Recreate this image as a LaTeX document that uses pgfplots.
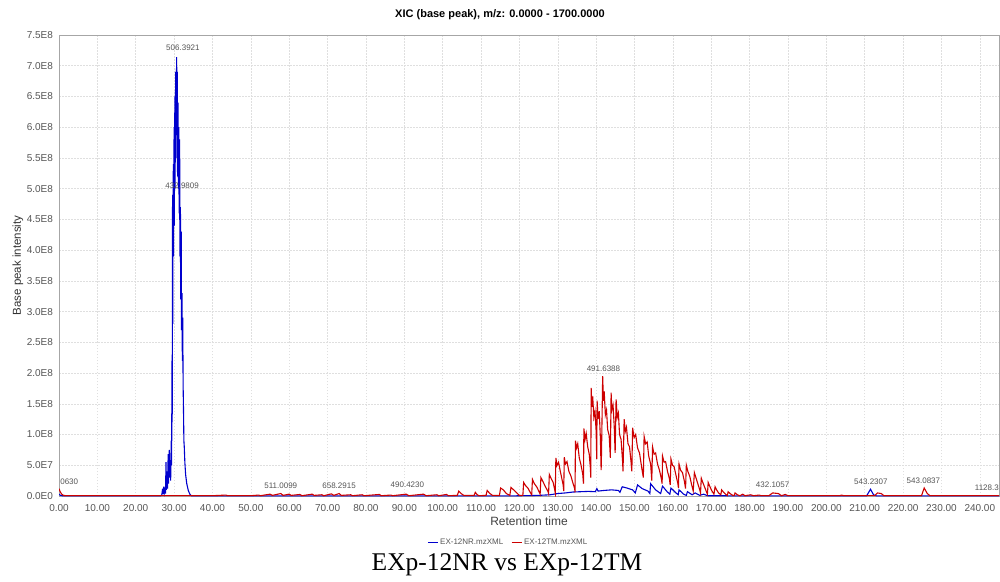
\documentclass[border=0pt]{standalone}
\usepackage{pgfplots}
\pgfplotsset{compat=1.18}
\usepackage{fontspec}
\setmainfont{Liberation Sans}
\newfontfamily\capfont{Liberation Serif}
\definecolor{nrblue}{RGB}{0,0,205}
\definecolor{tmred}{RGB}{205,0,0}
\definecolor{labgray}{RGB}{85,85,85}

\begin{document}
\begin{tikzpicture}
\useasboundingbox (0,0) rectangle (1000pt,581pt);
\begin{axis}[
  scale only axis,
  width=940pt, height=461pt,
  at={(59pt,85pt)}, anchor=south west,
  xmin=0, xmax=245, ymin=0, ymax=7.5,
  xtick={0,10,...,240},
  xticklabels={0.00,10.00,20.00,30.00,40.00,50.00,60.00,70.00,80.00,90.00,100.00,110.00,120.00,130.00,140.00,150.00,160.00,170.00,180.00,190.00,200.00,210.00,220.00,230.00,240.00},
  ytick={0,0.5,...,7.5},
  yticklabels={0.0E0,5.0E7,1.0E8,1.5E8,2.0E8,2.5E8,3.0E8,3.5E8,4.0E8,4.5E8,5.0E8,5.5E8,6.0E8,6.5E8,7.0E8,7.5E8},
  /pgf/number format/assume math mode=true,
  major tick length=0pt,
  ticklabel style={font=\fontsize{10}{12}\selectfont, text=labgray},
  xticklabel style={yshift=-5pt},
  yticklabel style={xshift=-2.5pt},
  xmajorgrids, ymajorgrids,
  major grid style={gray!25, dash pattern=on 1.5pt off 1.5pt, line width=0.5pt},
  axis line style={gray!70, line width=0.8pt},
  xlabel={Retention time},
  ylabel={Base peak intensity},
  every axis x label/.style={at={(rel axis cs:0.5,-0.054)}, anchor=center, font=\fontsize{12}{14}\selectfont, text=black!75},
  every axis y label/.style={at={(rel axis cs:-0.0437,0.5)}, anchor=center, rotate=90, font=\fontsize{11.5}{14}\selectfont, text=black!80},
  legend columns=2,
  legend style={draw=none, fill=none, at={(0.478,-0.1)}, anchor=center,
    font=\fontsize{8}{10}\selectfont, text=labgray,
    /tikz/every even column/.append style={column sep=6pt}},
  legend image code/.code={\draw[#1, line width=0.8pt] (0pt,0pt) -- (10pt,0pt);},
]
% EX-12NR
\addplot[nrblue, line width=1.1pt] coordinates {
(0,0.03)(0.4,0.01)(1,0.003)(26.5,0.003)(26.8,0.02)(27.0,0.12)(27.1,0.03)(27.3,0.15)(27.45,0.05)(27.6,0.10)(27.75,0.04)
(27.9,0.55)(28.0,0.10)(28.2,0.40)(28.3,0.12)(28.45,0.68)(28.55,0.20)(28.75,0.75)(28.85,0.30)(29.0,0.55)(29.1,0.25)
(29.25,0.90)(29.35,0.50)(29.45,2.2)(29.5,1.2)(29.6,4.9)(29.65,2.8)(29.7,4.2)(29.8,5.4)(29.85,3.9)(29.9,4.6)(30.0,6.0)
(30.05,4.4)(30.1,5.1)(30.2,6.5)(30.25,5.0)(30.3,5.6)(30.4,6.9)(30.45,5.5)(30.5,6.1)(30.6,6.75)(30.67,7.14)(30.72,5.9)
(30.75,6.3)(30.85,6.9)(30.9,5.2)(30.95,5.7)(31.05,6.4)(31.1,5.0)(31.15,5.5)(31.25,6.0)(31.3,4.6)(31.35,5.0)(31.45,5.8)
(31.5,3.9)(31.55,4.2)(31.65,4.7)(31.7,3.2)(31.75,3.6)(31.85,4.3)(31.9,2.7)(31.95,3.0)(32.05,3.3)(32.15,2.2)(32.25,2.9)
(32.35,1.8)(32.45,1.4)(32.55,0.9)(32.65,0.8)(32.8,0.55)(33.0,0.35)(33.3,0.2)(33.7,0.09)(34.1,0.03)(34.5,0.003)
(119,0.003)(125,0.01)(128,0.02)(130,0.04)(132,0.05)(134,0.065)(136,0.07)(138,0.075)(139.8,0.07)(140.2,0.12)(140.5,0.08)
(142,0.09)(144,0.10)(145.8,0.09)(146.2,0.06)(146.8,0.15)(148,0.13)(149.5,0.10)(150.2,0.05)(150.8,0.18)(152,0.12)
(153.5,0.08)(154.0,0.04)(154.2,0.20)(155.5,0.10)(156.8,0.04)(157.3,0.16)(158.5,0.07)(159.2,0.03)(159.5,0.13)(160.8,0.05)
(161.4,0.02)(161.6,0.10)(162.8,0.03)(163.5,0.01)(163.8,0.07)(165,0.02)(165.8,0.05)(167,0.01)(168,0.03)(169,0.005)
(175,0.003)(210.5,0.003)(211.5,0.11)(212.3,0.02)(213,0.003)(245,0.003)
};
\addlegendentry{EX-12NR.mzXML}
% EX-12TM
\addplot[tmred, line width=1.1pt] coordinates {
(0,0.12)(0.3,0.07)(0.7,0.03)(1.2,0.01)(2,0.005)(40,0.005)(43.5,0.015)(44,0.005)(50,0.005)(52,0.015)(52.5,0.005)
(55,0.03)(55.6,0.01)(57.8,0.04)(58.4,0.01)(60,0.03)(60.5,0.01)(62.8,0.025)(63.3,0.005)(66,0.03)(66.5,0.01)(68.5,0.02)
(69,0.005)(71,0.035)(71.6,0.01)(73,0.04)(73.6,0.01)(76,0.02)(76.5,0.005)(79,0.02)(79.5,0.005)(83.5,0.025)(84,0.005)
(86.5,0.015)(87,0.005)(90.5,0.03)(91.2,0.005)(95,0.03)(95.7,0.005)(98.5,0.02)(99,0.005)(101,0.025)(101.5,0.005)
(103.8,0.01)(104.2,0.08)(104.8,0.04)(105.5,0.01)(108.2,0.01)(108.5,0.06)(109,0.02)(109.5,0.005)(111.3,0.01)(111.6,0.09)
(112.3,0.04)(113,0.01)(114.8,0.01)(115.1,0.13)(115.8,0.1)(116.6,0.04)(117.5,0.01)(117.8,0.14)(118.5,0.1)(119.3,0.05)
(120,0.01)(120.9,0.01)(121.1,0.22)(121.6,0.17)(122.2,0.13)(122.9,0.05)(123.2,0.02)(123.4,0.27)(123.9,0.2)(124.5,0.15)
(125.2,0.06)(125.4,0.03)(125.6,0.30)(126.1,0.24)(126.7,0.16)(127.4,0.08)(127.6,0.04)(127.8,0.35)(128.3,0.28)(128.8,0.22)
(129.2,0.10)(129.35,0.05)(129.5,0.62)(129.8,0.50)(130.2,0.55)(130.6,0.42)(131.0,0.30)(131.4,0.18)(131.55,0.08)
(131.7,0.63)(132.0,0.52)(132.4,0.56)(132.9,0.40)(133.4,0.33)(133.9,0.22)(134.4,0.12)(134.5,0.06)(134.6,0.90)(134.9,0.78)
(135.2,0.85)(135.6,0.62)(136.0,0.52)(136.5,0.36)(136.7,0.20)(136.8,1.10)(137.1,0.92)(137.4,1.02)(137.8,0.80)(138.2,0.68)
(138.5,0.45)(138.6,0.30)(138.7,1.76)(138.9,1.45)(139.1,1.62)(139.4,1.28)(139.7,1.38)(140.0,1.05)(140.15,0.60)(140.25,1.55)
(140.5,1.25)(140.8,1.38)(141.1,0.95)(141.3,0.42)(141.4,0.70)(141.7,1.95)(141.9,1.55)(142.1,1.70)(142.4,1.32)(142.7,1.40)
(143.0,1.08)(143.4,0.98)(143.7,0.62)(143.9,1.68)(144.1,1.40)(144.4,1.48)(144.7,1.15)(144.95,0.70)(145.2,1.57)(145.5,1.28)
(145.8,1.35)(146.1,1.00)(146.5,0.92)(146.9,0.55)(147.0,0.40)(147.3,1.25)(147.6,1.05)(147.9,1.12)(148.3,0.85)(148.7,0.80)
(149.1,0.55)(149.3,0.40)(149.5,1.11)(149.9,0.95)(150.3,1.00)(150.8,0.78)(151.3,0.70)(151.9,0.45)(152.3,0.30)(152.5,0.97)
(152.9,0.85)(153.3,0.88)(153.7,0.65)(154.2,0.52)(154.5,0.25)(154.7,0.80)(155.1,0.68)(155.5,0.70)(156.0,0.52)(156.5,0.42)
(157.0,0.28)(157.2,0.20)(157.3,0.65)(157.7,0.55)(158.1,0.56)(158.6,0.40)(159.1,0.28)(159.3,0.18)(159.5,0.60)(159.9,0.50)
(160.3,0.48)(160.8,0.34)(161.3,0.20)(161.45,0.13)(161.6,0.52)(162.0,0.42)(162.5,0.38)(163.0,0.24)(163.3,0.12)(163.5,0.50)
(163.9,0.40)(164.4,0.32)(164.9,0.18)(165.3,0.08)(165.6,0.38)(166.0,0.30)(166.5,0.20)(167.0,0.10)(167.2,0.05)(167.4,0.29)
(167.8,0.22)(168.3,0.14)(168.8,0.06)(169.0,0.03)(169.2,0.22)(169.6,0.16)(170.1,0.09)(170.7,0.03)(171.0,0.15)(171.4,0.10)
(171.9,0.05)(172.5,0.02)(172.7,0.10)(173.1,0.07)(173.7,0.03)(174.2,0.01)(174.4,0.07)(174.9,0.04)(175.6,0.01)(176.0,0.01)
(176.2,0.05)(176.8,0.02)(177.5,0.005)(178.2,0.03)(178.8,0.005)(180.3,0.02)(181,0.005)(182.5,0.015)(183,0.005)(185,0.005)
(186.0,0.05)(187.5,0.04)(188.3,0.005)(189.3,0.025)(190,0.005)(203.5,0.005)(204,0.015)(204.5,0.005)(212.6,0.005)
(213.3,0.05)(214.3,0.04)(215,0.005)(224.8,0.005)(225.5,0.13)(226.3,0.04)(227,0.005)(245,0.005)
};
\addlegendentry{EX-12TM.mzXML}
% peak annotations
\begin{scope}[every node/.style={font=\fontsize{8}{10}\selectfont, text=labgray, inner sep=0pt}]
\node at (axis cs:32.3,7.30) {506.3921};
\node at (axis cs:32.1,5.04) {432.9809};
\node[anchor=west] at (axis cs:0.3,0.23) {0630};
\node at (axis cs:57.8,0.17) {511.0099};
\node at (axis cs:73.0,0.17) {658.2915};
\node at (axis cs:90.8,0.19) {490.4230};
\node at (axis cs:141.9,2.07) {491.6388};
\node at (axis cs:186.0,0.18) {432.1057};
\node at (axis cs:211.6,0.23) {543.2307};
\node at (axis cs:225.3,0.25) {543.0837};
\node[anchor=east] at (axis cs:245,0.13) {1128.3};
\end{scope}
\end{axis}
\node[font=\bfseries\fontsize{11}{13}\selectfont] at (500pt,566pt) {XIC (base peak), m/z: 0.0000 - 1700.0000};
\node[font=\capfont\fontsize{25.5}{30}\selectfont] at (507pt,16pt) {EXp-12NR vs EXp-12TM};
\end{tikzpicture}
\end{document}
